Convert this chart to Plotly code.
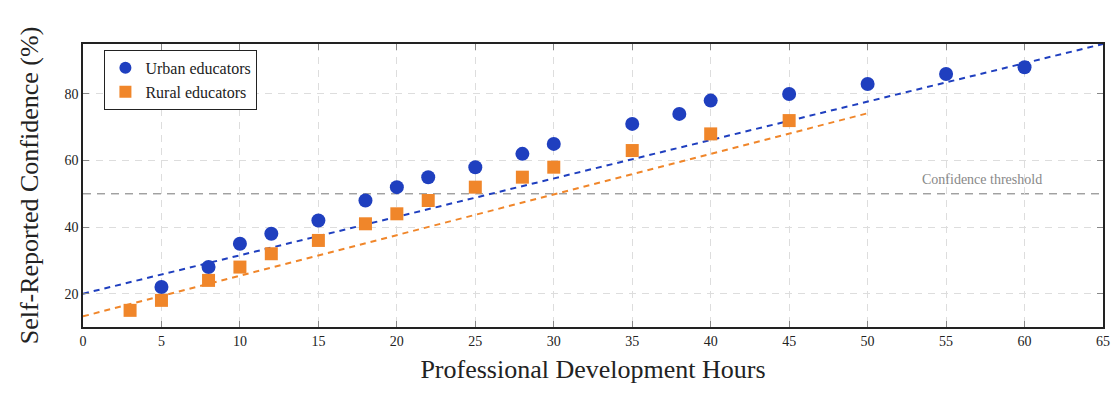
import plotly.graph_objects as go

# Professional development hours vs. self-reported confidence
urban_hours = [5, 8, 10, 12, 15, 18, 20, 22, 25, 28, 30, 35, 38, 40, 45, 50, 55, 60]
urban_conf = [22, 28, 35, 38, 42, 48, 52, 55, 58, 62, 65, 71, 74, 78, 80, 83, 86, 88]

rural_hours = [3, 5, 8, 10, 12, 15, 18, 20, 22, 25, 28, 30, 35, 40, 45]
rural_conf = [15, 18, 24, 28, 32, 36, 41, 44, 48, 52, 55, 58, 63, 68, 72]

# Trend lines: intercept, slope, x-span
urban_trend = dict(b=20.0, m=1.154, x0=0, x1=65)
rural_trend = dict(b=13.2, m=1.22, x0=0, x1=50)

threshold = 50
x_ticks = list(range(0, 66, 5))
y_ticks = [20, 40, 60, 80]

BLUE = "#1f3fbf"
ORANGE = "#f0862a"
FONT = "Liberation Serif"

fig = go.Figure()

for t, col in [(urban_trend, BLUE), (rural_trend, ORANGE)]:
    xs = [t["x0"], t["x1"]]
    ys = [t["b"] + t["m"] * x for x in xs]
    fig.add_trace(go.Scatter(x=xs, y=ys, mode="lines", showlegend=False,
                             line=dict(color=col, width=2, dash="6px,5px"),
                             hoverinfo="skip"))

fig.add_trace(go.Scatter(x=urban_hours, y=urban_conf, mode="markers",
                         name="Urban educators",
                         marker=dict(symbol="circle", size=14, color=BLUE)))
fig.add_trace(go.Scatter(x=rural_hours, y=rural_conf, mode="markers",
                         name="Rural educators",
                         marker=dict(symbol="square", size=13, color=ORANGE)))

fig.add_shape(type="line", xref="paper", yref="y", x0=0, x1=1,
              y0=threshold, y1=threshold,
              line=dict(color="#777777", width=1, dash="8px,6px"), layer="below")
fig.add_annotation(x=57.3, y=threshold + 4.3, xref="x", yref="y",
                   text="Confidence threshold", showarrow=False,
                   font=dict(family=FONT, size=14, color="#888888"))

axis_common = dict(
    showline=True, linecolor="#222222", linewidth=1.5, mirror="ticks",
    ticks="inside", ticklen=6, tickcolor="#888888",
    showgrid=True, gridcolor="#dddddd", griddash="7px,6px", gridwidth=1,
    zeroline=False, tickfont=dict(family=FONT, size=14, color="#222222"),
)

fig.update_xaxes(range=[0, 65], tickvals=x_ticks, **axis_common,
                 automargin=False, ticklabeloverflow="allow",
                 title=dict(text="Professional Development Hours",
                            font=dict(family=FONT, size=26, color="#222222"),
                            standoff=12))
fig.update_yaxes(range=[10, 95], tickvals=y_ticks, **axis_common,
                 title=dict(text="Self-Reported Confidence (%)",
                            font=dict(family=FONT, size=26, color="#222222"),
                            standoff=18))

fig.update_layout(
    width=1113, height=394,
    margin=dict(l=83, r=8, t=44, b=67),
    plot_bgcolor="white", paper_bgcolor="white",
    font=dict(family=FONT),
    legend=dict(x=0.021, y=0.979, xanchor="left", yanchor="top",
                bgcolor="white", bordercolor="#222222", borderwidth=1,
                font=dict(family=FONT, size=16, color="#222222"),
                itemsizing="constant", itemwidth=30, tracegroupgap=10),
)

fig.write_html("out.html")
